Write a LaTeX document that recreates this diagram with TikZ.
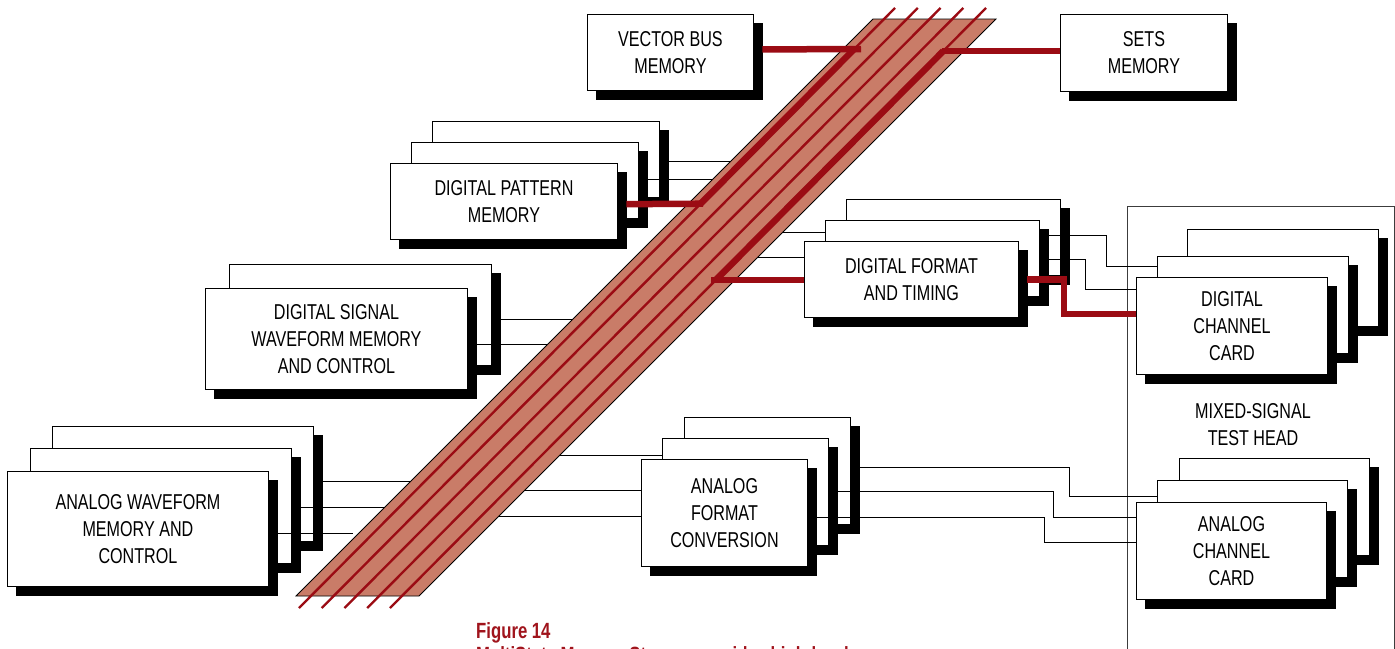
\documentclass[tikz,border=0pt]{standalone}
\usepackage{fontspec}
\setmainfont{Liberation Sans}[FakeStretch=0.75]
\newfontfamily\capfont{Liberation Sans}[FakeStretch=0.76]
\usetikzlibrary{shadows,calc}
\definecolor{busred}{RGB}{155,12,20}
\definecolor{busfill}{RGB}{201,124,104}
\definecolor{capred}{RGB}{160,20,28}
\definecolor{frameg}{RGB}{60,60,60}
\begin{document}
\begin{tikzpicture}[x=1pt,y=-1pt,
  blk/.style={draw=black, line width=0.9pt, fill=white, inner sep=0pt, anchor=north west,
     align=center, font=\fontsize{21.5pt}{27pt}\selectfont,
     copy shadow={shadow xshift=8.5pt, shadow yshift=-8.5pt, fill=black, draw=black}},
  sz/.style 2 args={minimum width=#1pt, minimum height=#2pt},
  wire/.style={draw=black, line width=1pt},
  redwire/.style={draw=busred, line width=6.5pt},
  busline/.style={draw=busred, line width=2.4pt},
  lbl/.style={align=center, inner sep=0pt, font=\fontsize{21.5pt}{27pt}\selectfont},
  caption/.style={anchor=base west, inner sep=0pt, text=capred, font=\capfont\bfseries\fontsize{22pt}{24pt}\selectfont}
]
\useasboundingbox (0,0) rectangle (1395,648);
\clip (0,0) rectangle (1395,648);
\fill[white] (0,0) rectangle (1395,648);

% test head frame
\node[draw=frameg, line width=1pt, minimum width=267pt, minimum height=500pt, anchor=north west, inner sep=0pt] (head) at (1127,206) {};
\node[lbl] (headlbl) at (1253,425) {MIXED-SIGNAL\\TEST HEAD};

% single boxes
\node[blk, sz={166}{76}] (vbm) at (587,14) {VECTOR BUS\\MEMORY};
\node[blk, sz={167}{77}] (sets) at (1060,14) {SETS\\MEMORY};

% digital pattern memory
\node[blk, sz={227}{76}] (dpm3) at (432,121) {};
\node[blk, sz={227}{76}] (dpm2) at (411,142) {};
\node[blk, sz={227}{76}] (dpm1) at (390,163) {DIGITAL PATTERN\\MEMORY};

% digital signal waveform memory
\node[blk, sz={262}{101}] (dsw2) at (229,264) {};
\node[blk, sz={262}{101}] (dsw1) at (205,288) {DIGITAL SIGNAL\\WAVEFORM MEMORY\\AND CONTROL};

% analog waveform memory
\node[blk, sz={261}{115}] (awm3) at (52,426) {};
\node[blk, sz={261}{115}] (awm2) at (30,448) {};
\node[blk, sz={261}{115}] (awm1) at (7,471) {ANALOG WAVEFORM\\MEMORY AND\\CONTROL};

% digital format and timing
\node[blk, sz={214}{76}] (dft3) at (846,199) {};
\node[blk, sz={214}{76}] (dft2) at (825,220) {};
\node[blk, sz={214}{76}] (dft1) at (804,241) {DIGITAL FORMAT\\AND TIMING};

% analog format conversion
\node[blk, sz={166}{107}] (afc3) at (684,417) {};
\node[blk, sz={166}{107}] (afc2) at (662,438) {};
\node[blk, sz={166}{107}] (afc1) at (641,459) {ANALOG\\FORMAT\\CONVERSION};

% digital channel card
\node[blk, sz={191}{97}] (dcc3) at (1187,229) {};
\node[blk, sz={191}{97}] (dcc2) at (1157,256) {};
\node[blk, sz={191}{97}] (dcc1) at (1136,277) {DIGITAL\\CHANNEL\\CARD};

% analog channel card
\node[blk, sz={190}{97}] (acc3) at (1179,458) {};
\node[blk, sz={190}{97}] (acc2) at (1157,480) {};
\node[blk, sz={190}{97}] (acc1) at (1136,502) {ANALOG\\CHANNEL\\CARD};

% thin connectors to the bus (left side)
\draw[wire] (dpm3.east |- 0,161.7) -- (738,161.7);
\draw[wire] (dpm2.east |- 0,179) -- (721,179);
\draw[wire] (dsw2.east |- 0,319) -- (581,319);
\draw[wire] (dsw1.east |- 0,344.3) -- (556,344.3);
\draw[wire] (awm3.east |- 0,481) -- (419,481);
\draw[wire] (awm2.east |- 0,507.7) -- (392,507.7);
\draw[wire] (awm1.east |- 0,533.3) -- (353,533.3);

% thin connectors from the bus (right side)
\draw[wire] (775,232.7) -- (dft2.west |- 0,232.7);
\draw[wire] (750,257.7) -- (dft1.west |- 0,257.7);
\draw[wire] (556,455) -- (afc2.west |- 0,455);
\draw[wire] (517,490.7) -- (afc1.west |- 0,490.7);
\draw[wire] (491,516.7) -- (afc1.west |- 0,516.7);

% format boxes to channel cards
\draw[wire] (dft2.east |- 0,235.7) -| (1106.7,266.7) -- (dcc2.west |- 0,266.7);
\draw[wire] (dft2.east |- 0,259) -| (1085.7,289.3) -- (dcc1.west |- 0,289.3);
\draw[wire] (afc3.east |- 0,467.3) -| (1069.3,496.7) -- (acc2.west |- 0,496.7);
\draw[wire] (afc2.east |- 0,491.7) -| (1053.3,517.5) -- (acc1.west |- 0,517.5);
\draw[wire] (afc1.east |- 0,517.3) -| (1044.3,542.7) -- (acc1.west |- 0,542.7);

% the bus
\coordinate (BL) at (296,596);
\coordinate (BR) at (419,596);
\coordinate (TR) at (996,19);
\coordinate (TL) at (873,19);
\draw[fill=busfill, line width=0.8pt] (BL) -- (BR) -- (TR) -- (TL) -- cycle;
\foreach \i in {0,...,4}
  \draw[busline] ({299+22.75*\i},608) -- ({895+22.75*\i},8);

% thick red paths
\draw[redwire] (854.3,49) -- (700.3,204);
\draw[redwire] (943.3,51) -- (715.8,280);
\draw[redwire] ([xshift=8.5pt,yshift=3pt]vbm.east) -- (861,49);
\draw[redwire] (942,51) -- (sets.west |- 0,51);
\draw[redwire] ([xshift=8.5pt,yshift=-2.7pt]dpm1.east) -- (703,203.7);
\draw[redwire] (711,280) -- (dft1.west |- 0,280);
\draw[redwire] ([xshift=8.5pt]dft1.east) -| (1064,314) -- (dcc1.west |- 0,314);

% caption
\node[caption] (fig) at (476,638.3) {Figure 14};
\node[caption] (figtext) at (476,662) {MultiState Memory Storage provides high-level};
\end{tikzpicture}
\end{document}
